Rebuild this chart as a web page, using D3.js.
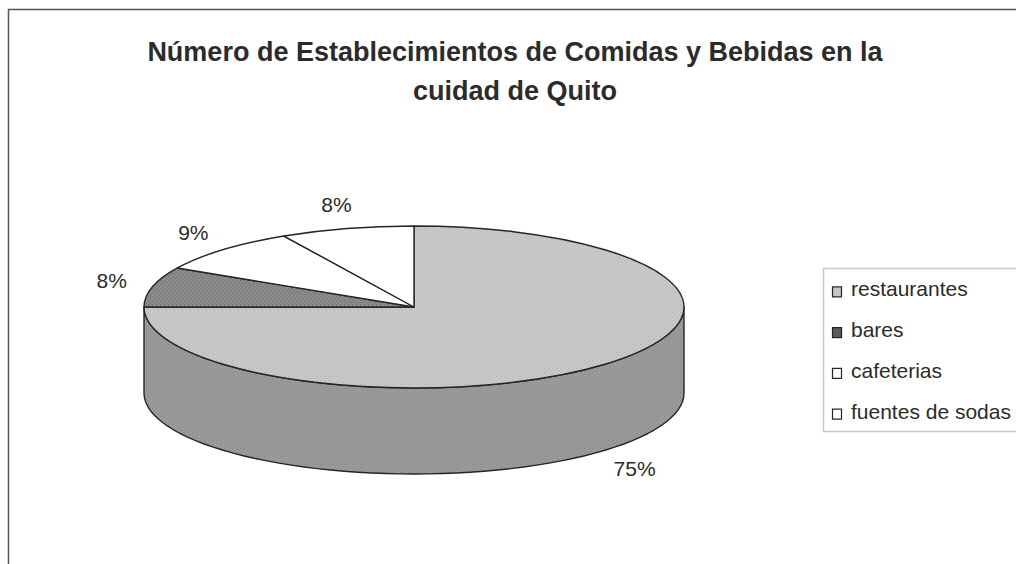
<!DOCTYPE html>
<html>
<head>
<meta charset="utf-8">
<script src="https://cdn.jsdelivr.net/npm/d3@7"></script>
<style>
  body { margin: 0; background: #fff; overflow: hidden; }
  svg { display: block; }
  text { font-family: "Liberation Sans", Arial, sans-serif; fill: #2b2b2b; }
</style>
</head>
<body>
<div id="chart"></div>
<script>
// data
const categories = ['restaurantes', 'bares', 'cafeterias', 'fuentes de sodas'];
const shares = [75, 8, 9, 8];
const shareLabels = ['75%', '8%', '9%', '8%'];
const titleLines = ['Número de Establecimientos de Comidas y Bebidas en la', 'cuidad de Quito'];

let width = 1016, height = 564;

const colorpel = {
    'top': ['url(#texRest)', 'url(#texBar)', '#ffffff', '#ffffff'],
    'side': 'url(#texSide)', 'stroke': '#262626'
}

// pie geometry
const cx = 414, cy = 307, rx = 270, ry = 81, depth = 86;
const pt = (a, dy = 0) => [cx + rx * Math.sin(a), cy - ry * Math.cos(a) + dy];

const svg = d3.select('#chart').append('svg')
    .attr('width', width).attr('height', height);

// textures (the scanned chart has fine dither)
const defs = svg.append('defs');
const tex = (id, base, dot) => {
    let p = defs.append('pattern').attr('id', id)
        .attr('width', 4).attr('height', 4).attr('patternUnits', 'userSpaceOnUse');
    p.append('rect').attr('width', 4).attr('height', 4).attr('fill', base);
    p.append('rect').attr('x', 0).attr('y', 0).attr('width', 1).attr('height', 1).attr('fill', dot);
    p.append('rect').attr('x', 2).attr('y', 2).attr('width', 1).attr('height', 1).attr('fill', dot);
}
tex('texRest', '#c8c8c8', '#b2b2b2');
tex('texSide', '#9a9a9a', '#868686');
tex('texBar', '#8a8a8a', '#6a6a6a');

// chart frame: only its top and left edges are inside the picture
svg.append('path').attr('d', `M8.5,${height}V9.5H${width}`)
    .attr('fill', 'none').attr('stroke', '#555').attr('stroke-width', 1.5);

// title
svg.append('g').selectAll('text').data(titleLines).enter().append('text')
    .attr('x', 515)
    .attr('y', (d, i) => 61 + i * 39)
    .attr('text-anchor', 'middle')
    .attr('font-size', 27).attr('font-weight', 'bold')
    .text(d => d);

const pie = d3.pie().sort(null).value(d => d);
const arcs = pie(shares);

// side wall: only the front half (pi/2 .. 3pi/2) is visible
const g_pie = svg.append('g');
arcs.forEach((d, i) => {
    let a0 = Math.max(d.startAngle, Math.PI / 2),
        a1 = Math.min(d.endAngle, 3 * Math.PI / 2);
    if (a1 <= a0) return;
    let steps = d3.range(0, 61).map(k => a0 + (a1 - a0) * k / 60);
    let top = steps.map(a => pt(a)),
        bot = steps.slice().reverse().map(a => pt(a, depth));
    g_pie.append('path')
        .attr('d', d3.line()(top.concat(bot)) + 'Z')
        .attr('fill', colorpel.side)
        .attr('stroke', colorpel.stroke).attr('stroke-width', 1.4)
        .attr('stroke-linejoin', 'round');
});

// top face slices
g_pie.selectAll('path.slice').data(arcs).enter().append('path')
    .attr('class', 'slice')
    .attr('d', d => {
        let [x0, y0] = pt(d.startAngle), [x1, y1] = pt(d.endAngle);
        let large = (d.endAngle - d.startAngle) > Math.PI ? 1 : 0;
        return `M${cx},${cy}L${x0},${y0}A${rx},${ry} 0 ${large} 1 ${x1},${y1}Z`;
    })
    .attr('fill', (d, i) => colorpel.top[i])
    .attr('stroke', colorpel.stroke).attr('stroke-width', 1.4)
    .attr('stroke-linejoin', 'round');

// percentage labels, outside the rim
const rxL = rx + 42, ryL = ry + 25, fs = 21;
svg.append('g').selectAll('text').data(arcs).enter().append('text')
    .attr('x', d => cx + rxL * Math.sin((d.startAngle + d.endAngle) / 2))
    .attr('y', d => {
        let m = (d.startAngle + d.endAngle) / 2, c = -Math.cos(m);
        return cy + ryL * c + (c > 0 ? depth : 0) + fs * 0.36;
    })
    .attr('text-anchor', 'middle')
    .attr('font-size', fs)
    .text((d, i) => shareLabels[i]);

// legend
const lg = svg.append('g');
lg.append('path').attr('d', `M${width},268.5H823.5V431.5H${width}`)
    .attr('fill', 'none').attr('stroke', '#c8c8c8').attr('stroke-width', 1.5);

const ly = d3.scaleBand().domain(categories).range([268, 431]);
const legendFill = ['url(#texRest)', '#5a5a5a', '#ffffff', '#ffffff'];

let items = lg.selectAll('g.item').data(categories).enter().append('g')
    .attr('class', 'item')
    .attr('transform', d => `translate(0,${ly(d) + ly.bandwidth() / 2})`);
items.append('rect')
    .attr('x', 832.5).attr('y', -1.5)
    .attr('width', 9).attr('height', 10)
    .attr('fill', (d, i) => legendFill[i])
    .attr('stroke', '#222').attr('stroke-width', 1.2);
items.append('text')
    .attr('x', 851).attr('y', 8)
    .attr('font-size', 21)
    .text(d => d);
</script>
</body>
</html>
